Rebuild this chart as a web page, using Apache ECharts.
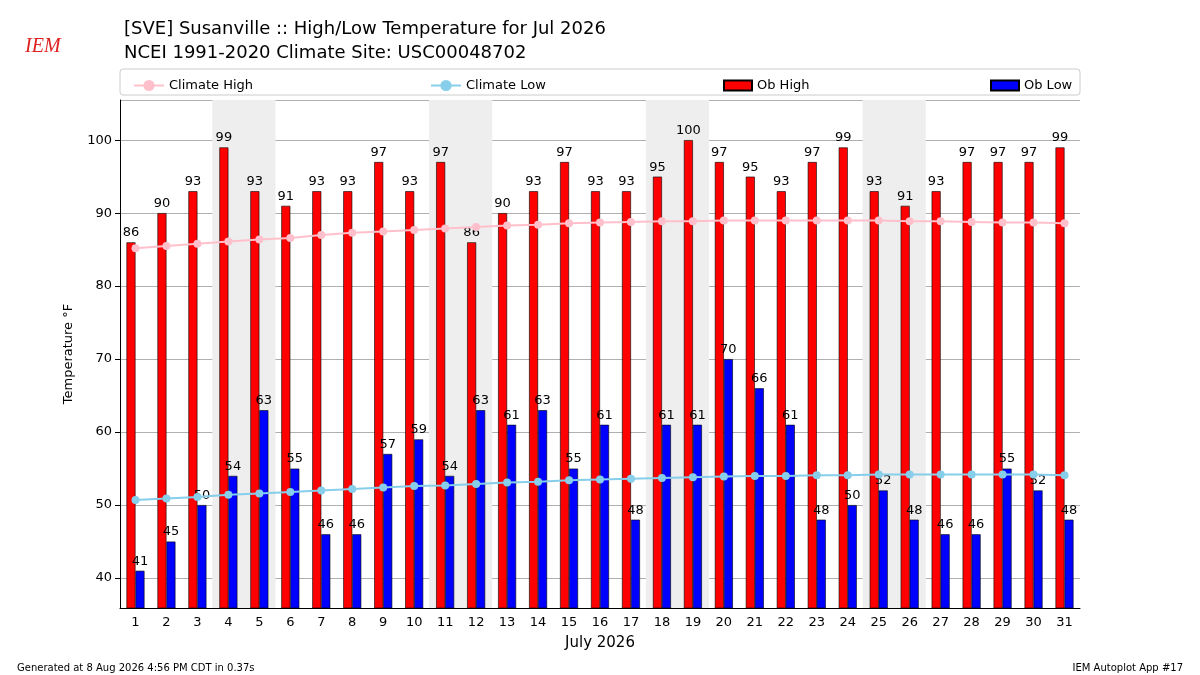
<!DOCTYPE html>
<html>
<head>
<meta charset="utf-8">
<script src="https://cdn.jsdelivr.net/npm/echarts@6/dist/echarts.min.js"></script>
<style>body{margin:0;background:#fff}#chart{width:1200px;height:675px}</style>
</head>
<body>
<div id="chart"></div>
<script>
var days = [];
for (var d = 1; d <= 31; d++) days.push(String(d));
var obHigh = [86,90,93,99,93,91,93,93,97,93,97,86,90,93,97,93,93,95,100,97,95,93,97,99,93,91,93,97,97,97,99];
var obLow = [41,45,50,54,63,55,46,46,57,59,54,63,61,63,55,61,48,61,61,70,66,61,48,50,52,48,46,46,55,52,48];
var climHigh = [85.2,85.5,85.8,86.1,86.4,86.6,87.0,87.3,87.5,87.7,87.9,88.1,88.3,88.4,88.6,88.7,88.8,88.9,88.9,89.0,89.0,89.0,89.0,89.0,89.0,88.9,88.9,88.8,88.7,88.7,88.6];
var climLow = [50.7,50.9,51.1,51.4,51.6,51.8,52.0,52.2,52.4,52.6,52.7,52.9,53.1,53.2,53.4,53.5,53.6,53.7,53.8,53.9,54.0,54.0,54.1,54.1,54.2,54.2,54.2,54.2,54.2,54.2,54.1];
var weekends = ['4','5','11','12','18','19','25','26'];

var yMin = 35.9, yMax = 105.5;
var shade = days.map(function (d) { return weekends.indexOf(d) >= 0 ? yMax : null; });

var myChart = echarts.init(document.getElementById('chart'));
var font = 'DejaVu Sans';
var legText = { fontSize: 13, color: '#000' };
var option = {
    animation: false,
    textStyle: { fontFamily: font },
    title: [
        { text: '[SVE] Susanville :: High/Low Temperature for Jul 2026\nNCEI 1991-2020 Climate Site: USC00048702',
          left: 119, top: 12, textStyle: { fontSize: 18, fontWeight: 'normal', color: '#000', lineHeight: 24, fontFamily: font } },
        { text: 'IEM', left: 20, top: 32, textStyle: { fontSize: 20, fontStyle: 'italic', fontWeight: 'normal', color: '#d22', fontFamily: 'Liberation Serif' } },
        { text: 'Generated at 8 Aug 2026 4:56 PM CDT in 0.37s', left: 12, top: 658, textStyle: { fontSize: 10, fontWeight: 'normal', color: '#000' } },
        { text: 'IEM Autoplot App #17', right: 12, top: 658, textStyle: { fontSize: 10, fontWeight: 'normal', color: '#000' } }
    ],
    graphic: [
        { type: 'rect', shape: { x: 120, y: 69, width: 960, height: 26, r: 3 }, style: { fill: '#fff', stroke: '#ccc' }, z: -1 }
    ],
    legend: [
        { data: ['Climate High'], left: 128, top: 74, itemWidth: 30, textStyle: legText },
        { data: ['Climate Low'], left: 425, top: 74, itemWidth: 30, textStyle: legText },
        { data: [{ name: 'Ob High', icon: 'rect' }], left: 718, top: 74, itemWidth: 28, itemHeight: 10, textStyle: legText },
        { data: [{ name: 'Ob Low', icon: 'rect' }], left: 985, top: 74, itemWidth: 28, itemHeight: 10, textStyle: legText }
    ],
    grid: { left: 120, right: 120, top: 100, bottom: 67 },
    xAxis: [
        { type: 'category', data: days, name: 'July 2026', nameLocation: 'middle', nameGap: 28,
          nameTextStyle: { fontSize: 15, color: '#000' },
          axisLine: { lineStyle: { color: '#000' } }, axisTick: { alignWithLabel: true, lineStyle: { color: '#000' } },
          axisLabel: { color: '#000', fontSize: 13 } },
        { type: 'category', data: days, show: false }
    ],
    yAxis: {
        type: 'value', min: yMin, max: yMax, splitNumber: 7,
        name: 'Temperature °F', nameLocation: 'middle', nameGap: 45, nameTextStyle: { fontSize: 13, color: '#000' },
        axisLine: { show: true, lineStyle: { color: '#000' } }, axisTick: { show: true, lineStyle: { color: '#000' } },
        axisLabel: { color: '#000', fontSize: 13, showMinLabel: false, showMaxLabel: false },
        splitLine: { lineStyle: { color: '#b0b0b0' } }
    },
    series: [
        { name: 'shade', type: 'bar', xAxisIndex: 1, data: shade, barWidth: '104%', silent: true,
          itemStyle: { color: '#eeeeee', borderWidth: 0 }, z: 0 },
        { name: 'Ob High', type: 'bar', data: obHigh, barWidth: 9, barGap: '0%',
          itemStyle: { color: '#ff0000', borderColor: '#000', borderWidth: 0.6 },
          label: { show: true, position: 'top', color: '#000', fontSize: 13, distance: 3 } },
        { name: 'Ob Low', type: 'bar', data: obLow, barWidth: 9,
          itemStyle: { color: '#0000ff', borderColor: '#000', borderWidth: 0.6 },
          label: { show: true, position: 'top', color: '#000', fontSize: 13, distance: 3 } },
        { name: 'Climate High', type: 'line', data: climHigh, symbol: 'circle', symbolSize: 8,
          itemStyle: { color: '#ffc0cb' }, lineStyle: { color: '#ffc0cb', width: 2 }, z: 5 },
        { name: 'Climate Low', type: 'line', data: climLow, symbol: 'circle', symbolSize: 8,
          itemStyle: { color: '#87ceeb' }, lineStyle: { color: '#87ceeb', width: 2 }, z: 5 }
    ]
};
myChart.setOption(option);
</script>
</body>
</html>
